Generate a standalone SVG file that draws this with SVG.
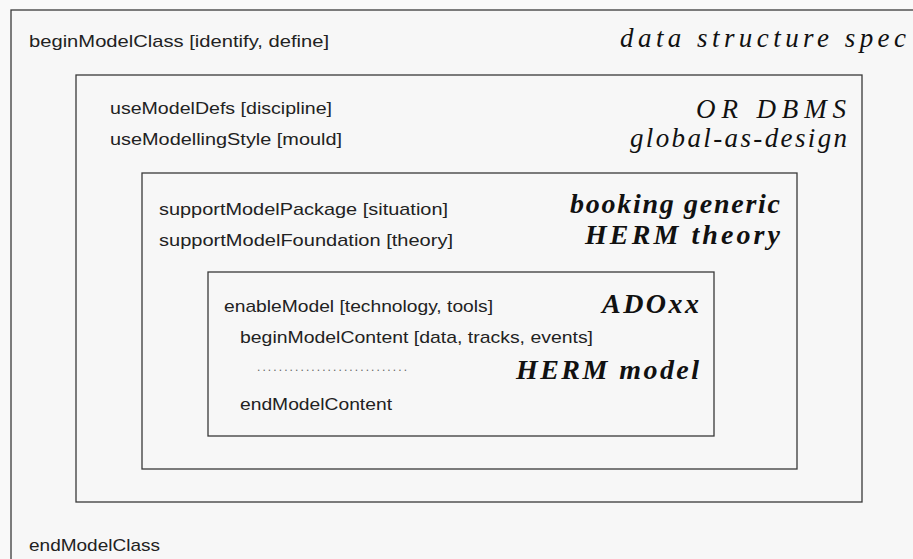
<svg xmlns="http://www.w3.org/2000/svg" width="913" height="559" viewBox="0 0 913 559">
<style>
.box{fill:#f7f7f7;stroke:#3a3a3a;stroke-width:1.3}
.s{font-family:"Liberation Sans",Arial,sans-serif;font-size:17px;fill:#222}
.it{font-family:"Liberation Serif","Times New Roman",serif;font-style:italic;fill:#111}
.r{font-size:27px}
.b{font-size:28px;font-weight:bold}
</style>
<rect width="913" height="559" fill="#f9f9f9"/>
<g id="modelClass">
<rect class="box" x="11" y="10" width="920" height="570"/>
<text class="s" x="29" y="47" textLength="300" lengthAdjust="spacingAndGlyphs">beginModelClass [identify, define]</text>
<text class="it r" x="620" y="47" textLength="286">data structure spec</text>
<text class="s" x="29" y="551" textLength="131" lengthAdjust="spacingAndGlyphs">endModelClass</text>
</g>
<g id="modelDefs">
<rect class="box" x="76" y="75" width="786" height="427"/>
<text class="s" x="110" y="114" textLength="222" lengthAdjust="spacingAndGlyphs">useModelDefs [discipline]</text>
<text class="s" x="110" y="145" textLength="232" lengthAdjust="spacingAndGlyphs">useModellingStyle [mould]</text>
<text class="it r" x="696" y="118" textLength="150">OR DBMS</text>
<text class="it r" x="630" y="147" textLength="217">global-as-design</text>
</g>
<g id="modelPackage">
<rect class="box" x="142" y="173" width="655" height="296"/>
<text class="s" x="159" y="215" textLength="289" lengthAdjust="spacingAndGlyphs">supportModelPackage [situation]</text>
<text class="s" x="159" y="246" textLength="294" lengthAdjust="spacingAndGlyphs">supportModelFoundation [theory]</text>
<text class="it b" x="570" y="213" textLength="210">booking generic</text>
<text class="it b" x="585" y="244" textLength="195">HERM theory</text>
</g>
<g id="enableModel">
<rect class="box" x="208" y="272" width="506" height="164"/>
<text class="s" x="224" y="312" textLength="269" lengthAdjust="spacingAndGlyphs">enableModel [technology, tools]</text>
<text class="s" x="240" y="343" textLength="353" lengthAdjust="spacingAndGlyphs">beginModelContent [data, tracks, events]</text>
<text class="s" x="257" y="371" textLength="150" style="font-size:12px;fill:#666">............................</text>
<text class="s" x="240" y="410" textLength="152" lengthAdjust="spacingAndGlyphs">endModelContent</text>
<text class="it b" x="602" y="313" textLength="97">ADOxx</text>
<text class="it b" x="516" y="379" textLength="183">HERM model</text>
</g>
<g id="connectors"/>
</svg>
